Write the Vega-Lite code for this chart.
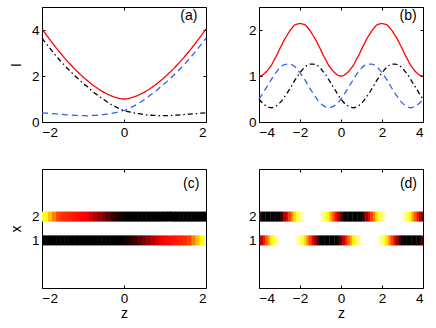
{
 "$schema": "https://vega.github.io/schema/vega-lite/v6.json",
 "background": "white",
 "padding": {"left": 8, "top": 6, "right": 0, "bottom": 0},
 "config": {
  "font": "Liberation Sans",
  "view": {"stroke": "#000", "strokeWidth": 1},
  "axis": {"grid": false, "domain": false, "tickColor": "#000", "tickSize": -3, "labelPadding": 6, "labelColor": "#000", "labelFont": "Liberation Sans", "labelFontSize": 13.5, "titleFont": "Liberation Sans", "titleFontSize": 14, "titleFontWeight": "normal", "titleColor": "#000"}
 },
 "datasets": {
  "a": [
   {"z":-2,"I":4.05,"I1":0.40,"I2":3.65},{"z":-1.9,"I":3.80,"I1":0.39,"I2":3.41},{"z":-1.8,"I":3.56,"I1":0.37,"I2":3.19},{"z":-1.7,"I":3.33,"I1":0.36,"I2":2.97},{"z":-1.6,"I":3.10,"I1":0.34,"I2":2.76},{"z":-1.5,"I":2.89,"I1":0.33,"I2":2.56},{"z":-1.4,"I":2.68,"I1":0.31,"I2":2.37},{"z":-1.3,"I":2.49,"I1":0.30,"I2":2.19},{"z":-1.2,"I":2.30,"I1":0.29,"I2":2.01},{"z":-1.1,"I":2.13,"I1":0.28,"I2":1.85},{"z":-1.0,"I":1.96,"I1":0.28,"I2":1.68},{"z":-0.9,"I":1.81,"I1":0.27,"I2":1.54},{"z":-0.8,"I":1.66,"I1":0.28,"I2":1.38},{"z":-0.7,"I":1.53,"I1":0.29,"I2":1.24},{"z":-0.6,"I":1.41,"I1":0.30,"I2":1.11},{"z":-0.5,"I":1.30,"I1":0.32,"I2":0.98},{"z":-0.4,"I":1.21,"I1":0.35,"I2":0.86},{"z":-0.3,"I":1.13,"I1":0.38,"I2":0.75},{"z":-0.2,"I":1.07,"I1":0.41,"I2":0.66},{"z":-0.1,"I":1.02,"I1":0.45,"I2":0.57},{"z":0,"I":1.00,"I1":0.50,"I2":0.50},{"z":0.1,"I":1.02,"I1":0.57,"I2":0.45},{"z":0.2,"I":1.07,"I1":0.66,"I2":0.41},{"z":0.3,"I":1.13,"I1":0.75,"I2":0.38},{"z":0.4,"I":1.21,"I1":0.86,"I2":0.35},{"z":0.5,"I":1.30,"I1":0.98,"I2":0.32},{"z":0.6,"I":1.41,"I1":1.11,"I2":0.30},{"z":0.7,"I":1.53,"I1":1.24,"I2":0.29},{"z":0.8,"I":1.66,"I1":1.38,"I2":0.28},{"z":0.9,"I":1.81,"I1":1.54,"I2":0.27},{"z":1.0,"I":1.96,"I1":1.68,"I2":0.28},{"z":1.1,"I":2.13,"I1":1.85,"I2":0.28},{"z":1.2,"I":2.30,"I1":2.01,"I2":0.29},{"z":1.3,"I":2.49,"I1":2.19,"I2":0.30},{"z":1.4,"I":2.68,"I1":2.37,"I2":0.31},{"z":1.5,"I":2.89,"I1":2.56,"I2":0.33},{"z":1.6,"I":3.10,"I1":2.76,"I2":0.34},{"z":1.7,"I":3.33,"I1":2.97,"I2":0.36},{"z":1.8,"I":3.56,"I1":3.19,"I2":0.37},{"z":1.9,"I":3.80,"I1":3.41,"I2":0.39},{"z":2.0,"I":4.05,"I1":3.65,"I2":0.40}
  ],
  "b": [
   {"z":-4,"I":1.00,"I1":0.50,"I2":0.50},{"z":-3.875,"I":1.01,"I1":0.58,"I2":0.43},{"z":-3.75,"I":1.05,"I1":0.67,"I2":0.38},{"z":-3.625,"I":1.10,"I1":0.76,"I2":0.34},{"z":-3.5,"I":1.17,"I1":0.85,"I2":0.32},{"z":-3.375,"I":1.25,"I1":0.94,"I2":0.31},{"z":-3.25,"I":1.36,"I1":1.03,"I2":0.33},{"z":-3.125,"I":1.46,"I1":1.10,"I2":0.36},{"z":-3,"I":1.58,"I1":1.17,"I2":0.41},{"z":-2.875,"I":1.69,"I1":1.22,"I2":0.47},{"z":-2.75,"I":1.80,"I1":1.25,"I2":0.55},{"z":-2.625,"I":1.89,"I1":1.26,"I2":0.63},{"z":-2.5,"I":1.98,"I1":1.26,"I2":0.72},{"z":-2.375,"I":2.05,"I1":1.24,"I2":0.81},{"z":-2.25,"I":2.11,"I1":1.20,"I2":0.91},{"z":-2.125,"I":2.13,"I1":1.14,"I2":0.99},{"z":-2,"I":2.14,"I1":1.07,"I2":1.07},{"z":-1.875,"I":2.13,"I1":0.99,"I2":1.14},{"z":-1.75,"I":2.11,"I1":0.91,"I2":1.20},{"z":-1.625,"I":2.05,"I1":0.81,"I2":1.24},{"z":-1.5,"I":1.98,"I1":0.72,"I2":1.26},{"z":-1.375,"I":1.89,"I1":0.63,"I2":1.26},{"z":-1.25,"I":1.80,"I1":0.55,"I2":1.25},{"z":-1.125,"I":1.69,"I1":0.47,"I2":1.22},{"z":-1,"I":1.58,"I1":0.41,"I2":1.17},{"z":-0.875,"I":1.46,"I1":0.36,"I2":1.10},{"z":-0.75,"I":1.36,"I1":0.33,"I2":1.03},{"z":-0.625,"I":1.25,"I1":0.31,"I2":0.94},{"z":-0.5,"I":1.17,"I1":0.32,"I2":0.85},{"z":-0.375,"I":1.10,"I1":0.34,"I2":0.76},{"z":-0.25,"I":1.05,"I1":0.38,"I2":0.67},{"z":-0.125,"I":1.01,"I1":0.43,"I2":0.58},
   {"z":0,"I":1.00,"I1":0.50,"I2":0.50},{"z":0.125,"I":1.01,"I1":0.58,"I2":0.43},{"z":0.25,"I":1.05,"I1":0.67,"I2":0.38},{"z":0.375,"I":1.10,"I1":0.76,"I2":0.34},{"z":0.5,"I":1.17,"I1":0.85,"I2":0.32},{"z":0.625,"I":1.25,"I1":0.94,"I2":0.31},{"z":0.75,"I":1.36,"I1":1.03,"I2":0.33},{"z":0.875,"I":1.46,"I1":1.10,"I2":0.36},{"z":1,"I":1.58,"I1":1.17,"I2":0.41},{"z":1.125,"I":1.69,"I1":1.22,"I2":0.47},{"z":1.25,"I":1.80,"I1":1.25,"I2":0.55},{"z":1.375,"I":1.89,"I1":1.26,"I2":0.63},{"z":1.5,"I":1.98,"I1":1.26,"I2":0.72},{"z":1.625,"I":2.05,"I1":1.24,"I2":0.81},{"z":1.75,"I":2.11,"I1":1.20,"I2":0.91},{"z":1.875,"I":2.13,"I1":1.14,"I2":0.99},{"z":2,"I":2.14,"I1":1.07,"I2":1.07},{"z":2.125,"I":2.13,"I1":0.99,"I2":1.14},{"z":2.25,"I":2.11,"I1":0.91,"I2":1.20},{"z":2.375,"I":2.05,"I1":0.81,"I2":1.24},{"z":2.5,"I":1.98,"I1":0.72,"I2":1.26},{"z":2.625,"I":1.89,"I1":0.63,"I2":1.26},{"z":2.75,"I":1.80,"I1":0.55,"I2":1.25},{"z":2.875,"I":1.69,"I1":0.47,"I2":1.22},{"z":3,"I":1.58,"I1":0.41,"I2":1.17},{"z":3.125,"I":1.46,"I1":0.36,"I2":1.10},{"z":3.25,"I":1.36,"I1":0.33,"I2":1.03},{"z":3.375,"I":1.25,"I1":0.31,"I2":0.94},{"z":3.5,"I":1.17,"I1":0.32,"I2":0.85},{"z":3.625,"I":1.10,"I1":0.34,"I2":0.76},{"z":3.75,"I":1.05,"I1":0.38,"I2":0.67},{"z":3.875,"I":1.01,"I1":0.43,"I2":0.58},{"z":4,"I":1.00,"I1":0.50,"I2":0.50}
  ]
 },
 "columns": 2,
 "spacing": {"row": 47, "column": 53},
 "bounds": "flush",
 "resolve": {"scale": {"x": "independent", "y": "independent", "color": "independent", "strokeDash": "independent"}},
 "concat": [
  {
   "width": 164, "height": 115,
   "layer": [
    {
     "data": {"name": "a"},
     "transform": [{"fold": ["I", "I1", "I2"], "as": ["s", "v"]}],
     "mark": {"type": "line", "strokeWidth": 1.3, "interpolate": "monotone"},
     "encoding": {
      "x": {"field": "z", "type": "quantitative", "scale": {"domain": [-2, 2], "nice": false}, "axis": {"values": [-2, 0, 2], "title": null}},
      "y": {"field": "v", "type": "quantitative", "scale": {"domain": [0, 5], "nice": false}, "axis": {"values": [0, 2, 4], "title": "I", "titlePadding": 8}},
      "color": {"field": "s", "type": "nominal", "scale": {"domain": ["I", "I1", "I2"], "range": ["#ff0000", "#3060f0", "#000000"]}, "legend": null},
      "strokeDash": {"field": "s", "type": "nominal", "scale": {"domain": ["I", "I1", "I2"], "range": [[1, 0], [6, 4], [5, 3, 1.5, 3]]}, "legend": null}
     }
    },
    {
     "data": {"values": [{"t": "(a)"}]},
     "mark": {"type": "text", "fontSize": 14, "font": "Liberation Sans"},
     "encoding": {
      "text": {"field": "t"},
      "x": {"datum": 1.58, "type": "quantitative", "scale": {"domain": [-2, 2], "nice": false}, "axis": {"orient": "top", "values": [-2, 0, 2], "labels": false, "title": null}},
      "y": {"datum": 4.6, "type": "quantitative", "scale": {"domain": [0, 5], "nice": false}, "axis": {"orient": "right", "values": [0, 2, 4], "labels": false, "title": null}}
     }
    }
   ],
   "resolve": {"axis": {"x": "independent", "y": "independent"}}
  },
  {
   "width": 164, "height": 115,
   "layer": [
    {
     "data": {"name": "b"},
     "transform": [{"fold": ["I", "I1", "I2"], "as": ["s", "v"]}],
     "mark": {"type": "line", "strokeWidth": 1.3, "interpolate": "monotone"},
     "encoding": {
      "x": {"field": "z", "type": "quantitative", "scale": {"domain": [-4, 4], "nice": false}, "axis": {"values": [-4, -2, 0, 2, 4], "title": null}},
      "y": {"field": "v", "type": "quantitative", "scale": {"domain": [0, 2.5], "nice": false}, "axis": {"values": [0, 1, 2], "title": null}},
      "color": {"field": "s", "type": "nominal", "scale": {"domain": ["I", "I1", "I2"], "range": ["#ff0000", "#3060f0", "#000000"]}, "legend": null},
      "strokeDash": {"field": "s", "type": "nominal", "scale": {"domain": ["I", "I1", "I2"], "range": [[1, 0], [6, 4], [5, 3, 1.5, 3]]}, "legend": null}
     }
    },
    {
     "data": {"values": [{"t": "(b)"}]},
     "mark": {"type": "text", "fontSize": 14, "font": "Liberation Sans"},
     "encoding": {
      "text": {"field": "t"},
      "x": {"datum": 3.27, "type": "quantitative", "scale": {"domain": [-4, 4], "nice": false}, "axis": {"orient": "top", "values": [-4, -2, 0, 2, 4], "labels": false, "title": null}},
      "y": {"datum": 2.31, "type": "quantitative", "scale": {"domain": [0, 2.5], "nice": false}, "axis": {"orient": "right", "values": [0, 1, 2], "labels": false, "title": null}}
     }
    }
   ],
   "resolve": {"axis": {"x": "independent", "y": "independent"}}
  },
  {
   "width": 164, "height": 119,
   "layer": [
    {
     "data": {"name": "a"},
     "mark": {"type": "rect", "width": 4.6, "height": 10, "clip": true},
     "encoding": {
      "x": {"field": "z", "type": "quantitative", "scale": {"domain": [-2, 2], "nice": false}, "axis": {"values": [-2, 0, 2], "title": "z", "titlePadding": 2}},
      "y": {"datum": 1, "type": "quantitative", "scale": {"domain": [-1, 4], "nice": false}, "axis": {"values": [1, 2], "title": "x", "titlePadding": 8}},
      "color": {"field": "I1", "type": "quantitative", "scale": {"domain": [0.45, 1.6, 2.7, 3.4, 4.3], "range": ["#000000", "#ff0000", "#ff3000", "#ffff00", "#ffffff"], "interpolate": "rgb", "clamp": true}, "legend": null}
     }
    },
    {
     "data": {"name": "a"},
     "mark": {"type": "rect", "width": 4.6, "height": 10, "clip": true},
     "encoding": {
      "x": {"field": "z", "type": "quantitative", "scale": {"domain": [-2, 2], "nice": false}, "axis": null},
      "y": {"datum": 2, "type": "quantitative", "scale": {"domain": [-1, 4], "nice": false}, "axis": null},
      "color": {"field": "I2", "type": "quantitative", "scale": {"domain": [0.45, 1.6, 2.7, 3.4, 4.3], "range": ["#000000", "#ff0000", "#ff3000", "#ffff00", "#ffffff"], "interpolate": "rgb", "clamp": true}, "legend": null}
     }
    },
    {
     "data": {"values": [{"t": "(c)"}]},
     "mark": {"type": "text", "fontSize": 14, "font": "Liberation Sans"},
     "encoding": {
      "text": {"field": "t"},
      "x": {"datum": 1.64, "type": "quantitative", "scale": {"domain": [-2, 2], "nice": false}, "axis": {"orient": "top", "values": [-2, 0, 2], "labels": false, "title": null}},
      "y": {"datum": 3.37, "type": "quantitative", "scale": {"domain": [-1, 4], "nice": false}, "axis": {"orient": "right", "values": [1, 2], "labels": false, "title": null}}
     }
    }
   ],
   "resolve": {"axis": {"x": "independent", "y": "independent"}}
  },
  {
   "width": 164, "height": 119,
   "layer": [
    {
     "data": {"name": "b"},
     "mark": {"type": "rect", "width": 2.9, "height": 10, "clip": true},
     "encoding": {
      "x": {"field": "z", "type": "quantitative", "scale": {"domain": [-4, 4], "nice": false}, "axis": {"values": [-4, -2, 0, 2, 4], "title": "z", "titlePadding": 2}},
      "y": {"datum": 1, "type": "quantitative", "scale": {"domain": [-1, 4], "nice": false}, "axis": {"values": [1, 2], "title": null}},
      "color": {"field": "I1", "type": "quantitative", "scale": {"domain": [0.40, 0.65, 0.95, 1.2], "range": ["#000000", "#ff0000", "#ffff00", "#ffffff"], "interpolate": "rgb", "clamp": true}, "legend": null}
     }
    },
    {
     "data": {"name": "b"},
     "mark": {"type": "rect", "width": 2.9, "height": 10, "clip": true},
     "encoding": {
      "x": {"field": "z", "type": "quantitative", "scale": {"domain": [-4, 4], "nice": false}, "axis": null},
      "y": {"datum": 2, "type": "quantitative", "scale": {"domain": [-1, 4], "nice": false}, "axis": null},
      "color": {"field": "I2", "type": "quantitative", "scale": {"domain": [0.40, 0.65, 0.95, 1.2], "range": ["#000000", "#ff0000", "#ffff00", "#ffffff"], "interpolate": "rgb", "clamp": true}, "legend": null}
     }
    },
    {
     "data": {"values": [{"t": "(d)"}]},
     "mark": {"type": "text", "fontSize": 14, "font": "Liberation Sans"},
     "encoding": {
      "text": {"field": "t"},
      "x": {"datum": 3.29, "type": "quantitative", "scale": {"domain": [-4, 4], "nice": false}, "axis": {"orient": "top", "values": [-4, -2, 0, 2, 4], "labels": false, "title": null}},
      "y": {"datum": 3.37, "type": "quantitative", "scale": {"domain": [-1, 4], "nice": false}, "axis": {"orient": "right", "values": [1, 2], "labels": false, "title": null}}
     }
    }
   ],
   "resolve": {"axis": {"x": "independent", "y": "independent"}}
  }
 ]
}
